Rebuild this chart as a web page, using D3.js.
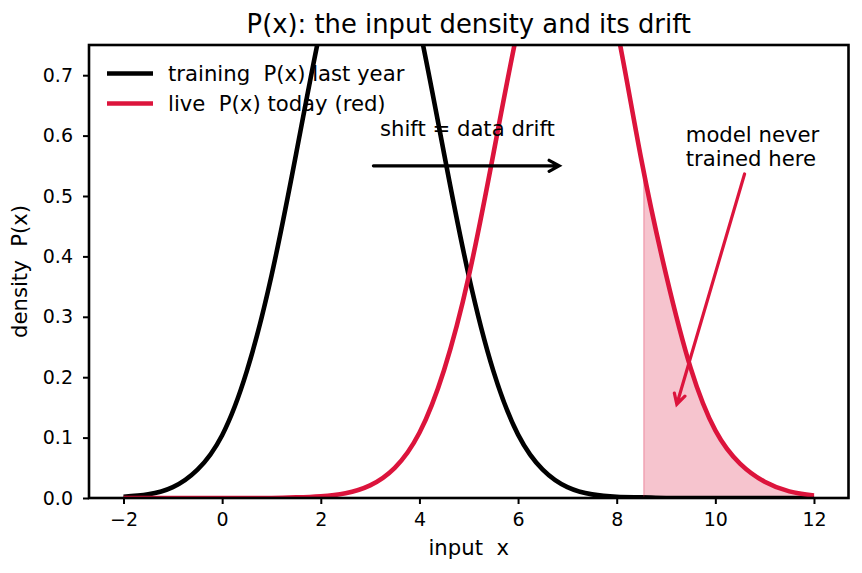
<!DOCTYPE html>
<html lang="en">

<head>
    <meta charset="UTF-8">
    <title>P(x): the input density and its drift</title>
    <style>
        body {
            padding: 0;
            margin: 0;
            background: #fff;
        }

        text {
            font-family: "DejaVu Sans", sans-serif;
            fill: #000;
            white-space: pre;
        }
    </style>
</head>

<body>
    <script src="https://d3js.org/d3.v7.min.js"></script>
    <script>
        // input grid
        const xs = [-2, -1.5, -1, -0.5, 0, 0.5, 1, 1.5, 2, 2.5, 3, 3.5, 4, 4.5, 5, 5.5, 6, 6.5, 7, 7.5, 8, 8.5, 9, 9.5, 10, 10.5, 11, 11.5, 12];
        // training P(x), last year
        const trainingP = [0.002, 0.006, 0.018, 0.047, 0.104, 0.21, 0.368, 0.57, 0.779, 0.939, 1.0, 0.939, 0.779, 0.57, 0.368, 0.21, 0.105, 0.047, 0.018, 0.006, 0.002, 0.001, 0, 0, 0, 0, 0, 0, 0];
        // live P(x), today
        const liveP = [0, 0, 0, 0, 0, 0, 0, 0.001, 0.003, 0.008, 0.021, 0.05, 0.108, 0.212, 0.367, 0.57, 0.779, 0.939, 1.0, 0.939, 0.779, 0.56, 0.37, 0.215, 0.112, 0.057, 0.027, 0.011, 0.004];
        const seriesNames = ['training  P(x) last year', 'live  P(x) today (red)'];
        const xTicks = [-2, 0, 2, 4, 6, 8, 10, 12];
        const yTicks = [0, 0.1, 0.2, 0.3, 0.4, 0.5, 0.6, 0.7];
        const unseenFrom = 8.55; // live inputs beyond anything seen in training

        const RED = '#dc143c';
        const FS = 21.2; // labels, legend, notes
        const LW = 4.6;
        const width = 862, height = 573;
        const margin = { left: 89, right: 13.5, top: 45, bottom: 75 };

        const svg = d3.select('body').append('svg')
            .attr('width', width)
            .attr('height', height);

        const x = d3.scaleLinear().domain([-2.7, 12.7]).range([margin.left, width - margin.right]);
        const y = d3.scaleLinear().domain([0, 0.75]).range([height - margin.bottom, margin.top]);

        // clip to the plot box
        const defs = svg.append('defs');
        defs.append('clipPath').attr('id', 'plot')
            .append('rect')
            .attr('x', x.range()[0]).attr('y', y.range()[1])
            .attr('width', x.range()[1] - x.range()[0])
            .attr('height', y.range()[0] - y.range()[1]);
        defs.append('clipPath').attr('id', 'unseen')
            .append('rect')
            .attr('x', x(unseenFrom)).attr('y', y.range()[1])
            .attr('width', x.range()[1] - x(unseenFrom))
            .attr('height', y.range()[0] - y.range()[1]);

        const training = xs.map((v, i) => [v, trainingP[i]]);
        const live = xs.map((v, i) => [v, liveP[i]]);

        const line = d3.line()
            .x(d => x(d[0]))
            .y(d => y(d[1]))
            .curve(d3.curveNatural);

        const plot = svg.append('g').attr('clip-path', 'url(#plot)');

        // shaded region under the live curve (same spline, clipped at unseenFrom)
        const area = d3.area()
            .x(d => x(d[0]))
            .y0(y(0))
            .y1(d => y(d[1]))
            .curve(d3.curveNatural);
        plot.append('g').attr('clip-path', 'url(#unseen)')
            .append('path')
            .datum(live)
            .attr('d', area)
            .attr('fill', RED).attr('fill-opacity', 0.25)
            .attr('stroke', RED).attr('stroke-opacity', 0.25).attr('stroke-width', 1.3);

        plot.append('path')
            .datum(training)
            .attr('d', line)
            .attr('fill', 'none')
            .attr('stroke', '#000')
            .attr('stroke-width', LW);

        const livePath = plot.append('path')
            .datum(live)
            .attr('d', line)
            .attr('fill', 'none')
            .attr('stroke', RED)
            .attr('stroke-width', LW);

        // left edge of the shading: find where the live curve sits at unseenFrom
        (function () {
            const node = livePath.node();
            const px = x(unseenFrom);
            const total = node.getTotalLength();
            let lo = total / 2, hi = total; // right half of the curve
            for (let k = 0; k < 40; k++) {
                const mid = (lo + hi) / 2;
                if (node.getPointAtLength(mid).x < px) lo = mid; else hi = mid;
            }
            const top = node.getPointAtLength(lo).y;
            plot.append('line')
                .attr('x1', px).attr('x2', px)
                .attr('y1', y(0)).attr('y2', top)
                .attr('stroke', RED).attr('stroke-opacity', 0.3).attr('stroke-width', 1.3);
        })();

        // axes
        const xAxis = svg.append('g')
            .attr('transform', `translate(0,${y(0)})`)
            .call(d3.axisBottom(x).tickValues(xTicks).tickFormat(d3.format('d')).tickSize(6).tickPadding(9));
        const yAxis = svg.append('g')
            .attr('transform', `translate(${x.range()[0]},0)`)
            .call(d3.axisLeft(y).tickValues(yTicks).tickFormat(d3.format('.1f')).tickSize(6).tickPadding(10));
        [xAxis, yAxis].forEach(a => {
            a.select('.domain').remove();
            a.selectAll('.tick line').attr('stroke', '#000').attr('stroke-width', 2);
            a.selectAll('.tick text')
                .attr('font-family', '"DejaVu Sans", sans-serif')
                .attr('font-size', 19)
                .attr('fill', '#000');
        });

        svg.append('rect')
            .attr('x', x.range()[0]).attr('y', y.range()[1])
            .attr('width', x.range()[1] - x.range()[0])
            .attr('height', y.range()[0] - y.range()[1])
            .attr('fill', 'none')
            .attr('stroke', '#000')
            .attr('stroke-width', 2.6);

        // titles
        svg.append('text')
            .attr('x', (x.range()[0] + x.range()[1]) / 2).attr('y', 33)
            .attr('text-anchor', 'middle')
            .attr('font-size', 25.8)
            .text('P(x): the input density and its drift');
        svg.append('text')
            .attr('x', (x.range()[0] + x.range()[1]) / 2).attr('y', 555)
            .attr('text-anchor', 'middle')
            .attr('font-size', FS)
            .text('input  x');
        svg.append('text')
            .attr('transform', `translate(27,${(y.range()[0] + y.range()[1]) / 2}) rotate(-90)`)
            .attr('text-anchor', 'middle')
            .attr('font-size', FS)
            .text('density  P(x)');

        // arrows with open "->" heads
        function arrow(g, p0, p1, color, shrink) {
            const dx = p1[0] - p0[0], dy = p1[1] - p0[1];
            const len = Math.hypot(dx, dy);
            const ux = dx / len, uy = dy / len;
            const a = [p0[0] + ux * shrink, p0[1] + uy * shrink];
            const b = [p1[0] - ux * shrink, p1[1] - uy * shrink];
            const hl = 10, hw = 5.5;
            const h1 = [b[0] - ux * hl - uy * hw, b[1] - uy * hl + ux * hw];
            const h2 = [b[0] - ux * hl + uy * hw, b[1] - uy * hl - ux * hw];
            g.append('path')
                .attr('d', `M${a}L${b}M${h1}L${b}L${h2}`)
                .attr('fill', 'none')
                .attr('stroke', color)
                .attr('stroke-width', 3.2)
                .attr('stroke-linejoin', 'miter')
                .attr('stroke-linecap', 'round');
        }

        const notes = svg.append('g');
        notes.append('text')
            .attr('x', x(3.2)).attr('y', y(0.6))
            .attr('font-size', FS)
            .text('shift = data drift');
        arrow(notes, [x(3), y(0.55)], [x(6.9), y(0.55)], '#000', 3.3);

        const never = notes.append('text')
            .attr('x', x(9.4)).attr('y', y(0.55))
            .attr('font-size', FS);
        never.append('tspan').attr('x', x(9.4)).attr('dy', -23.5).text('model never');
        never.append('tspan').attr('x', x(9.4)).attr('dy', 23.5).text('trained here');
        // arrow leaves the text box along the line from its centre to the target
        (function () {
            const bb = never.node().getBBox();
            const cx = bb.x + bb.width / 2, cy = bb.y + bb.height / 2;
            const tx = x(9.2), ty = y(0.15);
            const t = (bb.y + bb.height - cy) / (ty - cy);
            arrow(notes, [cx + (tx - cx) * t, cy + (ty - cy) * t], [tx, ty], RED, 3.3);
        })();

        // legend (no frame)
        const legend = svg.append('g');
        [['#000', seriesNames[0]], [RED, seriesNames[1]]].forEach((s, i) => {
            const ly = 73.5 + i * 30;
            legend.append('line')
                .attr('x1', 107).attr('x2', 153)
                .attr('y1', ly).attr('y2', ly)
                .attr('stroke', s[0]).attr('stroke-width', LW);
            legend.append('text')
                .attr('x', 168).attr('y', ly + 7)
                .attr('font-size', FS)
                .text(s[1]);
        });
    </script>
</body>

</html>
